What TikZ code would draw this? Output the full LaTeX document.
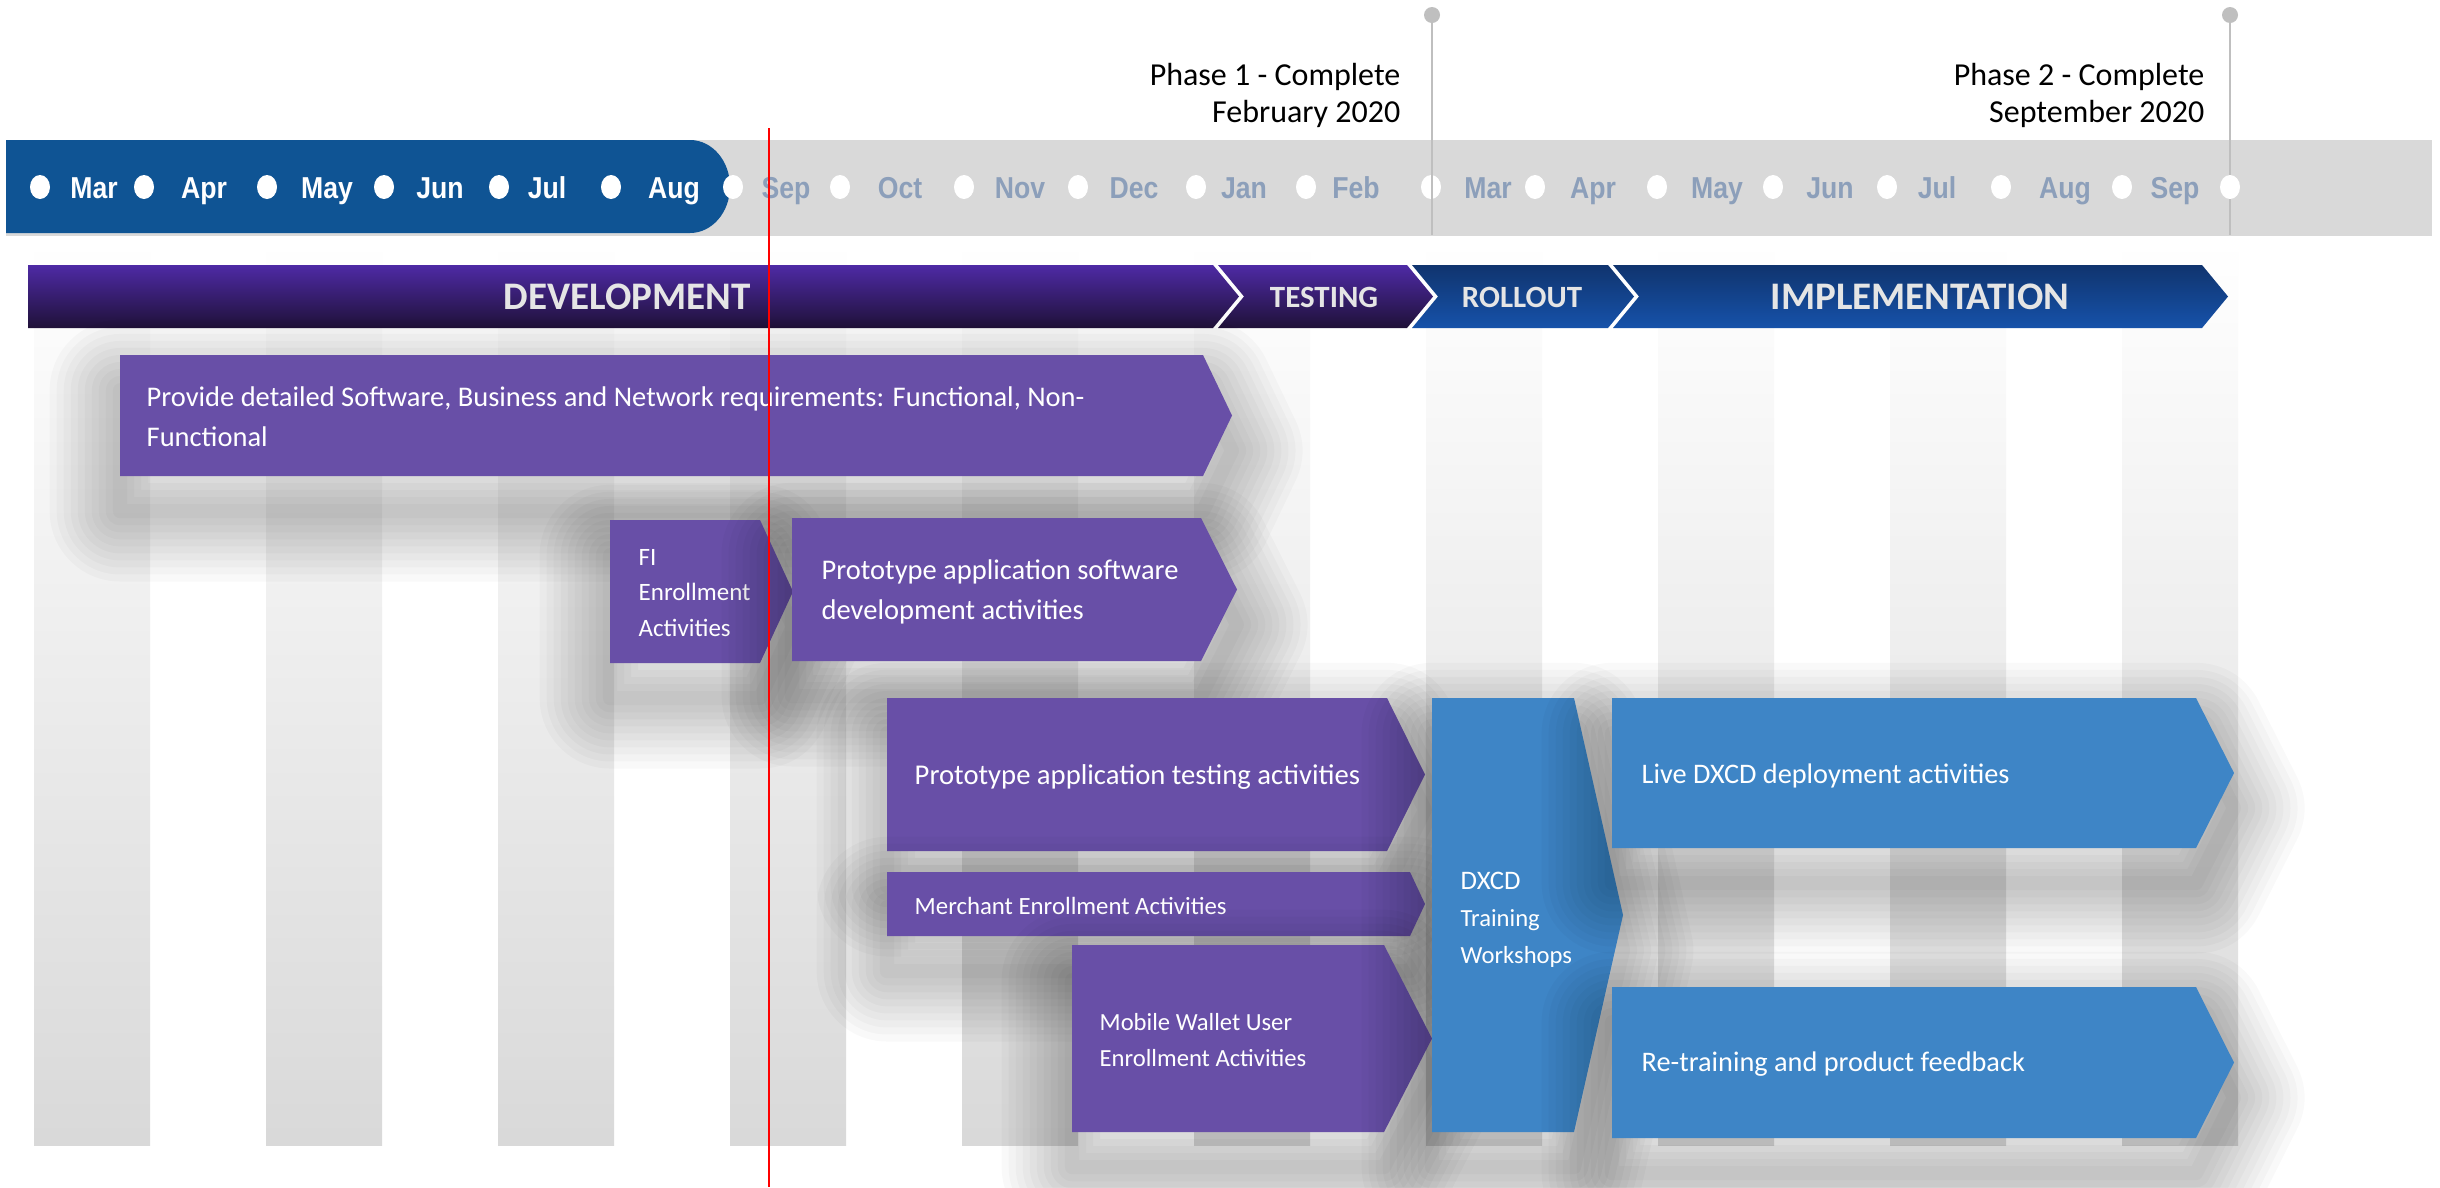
\documentclass[tikz,border=0pt]{standalone}
\usepackage{fontspec}
\setmainfont{Carlito}
\newfontfamily\monthfont[FakeStretch=0.88]{Liberation Sans}

\definecolor{tlblue}{HTML}{0F5494}
\definecolor{tlgray}{HTML}{D9D9D9}
\definecolor{monthgray}{HTML}{8C9FBA}
\definecolor{actpurple}{HTML}{684FA7}
\definecolor{actblue}{HTML}{3E85C6}
\definecolor{devtop}{HTML}{4E2AA5}
\definecolor{devbot}{HTML}{1F1138}
\definecolor{imptop}{HTML}{10346E}
\definecolor{impbot}{HTML}{1652AA}
\definecolor{phasegray}{HTML}{BFBFBF}

\tikzset{
  month/.style={font=\monthfont\bfseries\fontsize{8.6}{9}\selectfont, inner sep=0pt, anchor=base},
  phase/.style={font=\fontsize{9.1}{10.5}\selectfont, align=right, inner sep=0pt, anchor=east},
  band/.style={text=white!90!black, inner sep=0pt, font=\bfseries\fontsize{8.8}{10}\selectfont},
  bigband/.style={band, font=\bfseries\fontsize{11.1}{12}\selectfont},
  acttext/.style={text=white, align=left, anchor=west, inner sep=0pt, font=\fontsize{8.1}{11.4}\selectfont},
  shadowring/.style={preaction={draw=black, draw opacity=0.022, line width=#1, line join=round, transform canvas={yshift=-10pt}}},
  actshadow/.style={shadowring=40pt, shadowring=36pt, shadowring=32pt, shadowring=28pt, shadowring=24pt,
    shadowring=20pt, shadowring=16pt, shadowring=12pt, shadowring=8pt, shadowring=4pt},
}

\begin{document}
\begin{tikzpicture}[x=0.01cm,y=-0.01cm]
    \useasboundingbox[fill=white] (0,0) rectangle (2440,1187);
    % month stripes
    \foreach \i in {0,...,9}
        \shade[top color=white, bottom color=black!15] (34+232*\i,240) rectangle ++(116,905);
    % timeline
    \fill[tlgray] (6,140) rectangle (2432,236);
    \fill[tlblue] (6,140) -- (690,140) arc[start angle=-90, end angle=90, x radius=40, y radius=46.5] -- (6,233) -- cycle;
    \foreach \dx/\lx/\m/\c [count=\i] in {40/94/Mar/white, 144/204/Apr/white, 267/327/May/white, 384/440/Jun/white,
            499/547/Jul/white, 611/674/Aug/white, 733/786/Sep/monthgray, 840/900/Oct/monthgray,
            964/1020/Nov/monthgray, 1078/1134/Dec/monthgray, 1196/1244/Jan/monthgray, 1306/1356/Feb/monthgray,
            1431/1488/Mar/monthgray, 1535/1593/Apr/monthgray, 1657/1717/May/monthgray, 1773/1830/Jun/monthgray,
            1887/1937/Jul/monthgray, 2001/2065/Aug/monthgray, 2122/2175/Sep/monthgray}
    {
        \fill[white] (\dx,187) ellipse[x radius=10, y radius=12];
        \node[month, text=\c] (month\i) at (\lx,198) {\m};
    }
    % phase markers
    \draw[phasegray, line width=0.6pt] (1432,15) -- (1432,235);
    \fill[phasegray] (1432,15) circle (8);
    \draw[phasegray, line width=0.6pt] (2230,15) -- (2230,235);
    \fill[phasegray] (2230,15) circle (8);
    \fill[white] (2230,187) ellipse[x radius=10, y radius=12];
    \node[phase] (phase1) at (1401,95) {Phase 1 - Complete\\February 2020};
    \node[phase] (phase2) at (2205,95) {Phase 2 - Complete\\September 2020};
    % phase band
    \shade[top color=devtop, bottom color=devbot] (28,265) -- (1213,265) -- (1239,296.5) -- (1213,328) -- (28,328) -- cycle;
    \shade[top color=devtop, bottom color=devbot] (1218,265) -- (1407,265) -- (1433,296.5) -- (1407,328) -- (1218,328) -- (1244,296.5) -- cycle;
    \shade[top color=imptop, bottom color=impbot] (1412,265) -- (1608,265) -- (1634,296.5) -- (1608,328) -- (1412,328) -- (1438,296.5) -- cycle;
    \shade[top color=imptop, bottom color=impbot] (1613,265) -- (2202,265) -- (2228,296.5) -- (2202,328) -- (1613,328) -- (1639,296.5) -- cycle;
    \node[bigband] (dev) at (627,297) {DEVELOPMENT};
    \node[band] (test) at (1324,297) {TESTING};
    \node[band] (roll) at (1522,297) {ROLLOUT};
    \node[bigband] (impl) at (1920,297) {IMPLEMENTATION};
    % activities
    \fill[actpurple, actshadow] (120,355) -- (1203,355) -- (1232,415.5) -- (1203,476) -- (120,476) -- cycle;
    \node[acttext] (require) at (146,417) {Provide detailed Software, Business and Network requirements: Functional, Non-\\Functional};
    \fill[actpurple, actshadow] (610,520) -- (760,520) -- (793,591.5) -- (760,663) -- (610,663) -- cycle;
    \node[acttext, font=\fontsize{7.1}{10.2}\selectfont] (fienroll) at (638,593) {FI\\Enrollment\\Activities};
    \fill[actpurple, actshadow] (792,518) -- (1201,518) -- (1237,589.5) -- (1201,661) -- (792,661) -- cycle;
    \node[acttext] (protodev) at (821,592) {Prototype application software\\development activities};
    \fill[actpurple, actshadow] (887,698) -- (1387,698) -- (1425,774.5) -- (1387,851) -- (887,851) -- cycle;
    \node[acttext, font=\fontsize{8.15}{10}\selectfont] (prototest) at (914,777) {Prototype application testing activities};
    \fill[actpurple, actshadow] (887,872) -- (1410,872) -- (1425,904) -- (1410,936) -- (887,936) -- cycle;
    \node[acttext, font=\fontsize{7.05}{10}\selectfont] (merchant) at (914,906) {Merchant Enrollment Activities};
    \fill[actpurple, actshadow] (1072,945) -- (1384,945) -- (1432,1038.5) -- (1384,1132) -- (1072,1132) -- cycle;
    \node[acttext, font=\fontsize{7}{10}\selectfont] (wallet) at (1099,1040) {Mobile Wallet User\\Enrollment Activities};
    \fill[actblue, actshadow] (1432,698) -- (1574,698) -- (1623,915) -- (1574,1132) -- (1432,1132) -- cycle;
    \node[acttext, font=\fontsize{7}{10.5}\selectfont] (training) at (1460,920) {{\fontsize{7.6}{10.5}\selectfont DXCD}\\Training\\Workshops};
    \fill[actblue, actshadow] (1612,698) -- (2196,698) -- (2234,773) -- (2196,848) -- (1612,848) -- cycle;
    \node[acttext, font=\fontsize{8.05}{10}\selectfont] (deploy) at (1641,776) {Live DXCD deployment activities};
    \fill[actblue, actshadow] (1612,987) -- (2196,987) -- (2234,1062.5) -- (2196,1138) -- (1612,1138) -- cycle;
    \node[acttext, font=\fontsize{8.05}{10}\selectfont] (feedback) at (1641,1064) {Re-training and product feedback};
    % today
    \draw[red, line width=0.6pt] (769,128) -- (769,1187);
\end{tikzpicture}
\end{document}
